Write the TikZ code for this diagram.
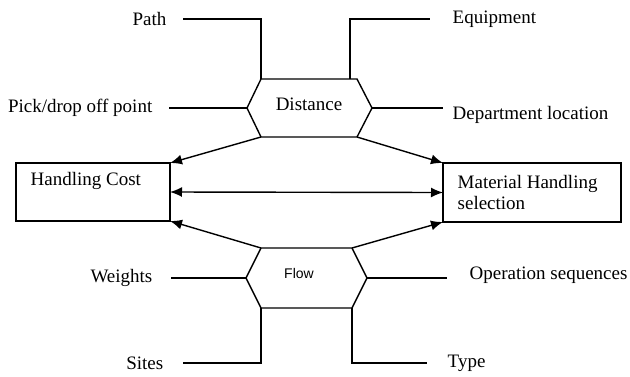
\documentclass[tikz,border=0pt]{standalone}
\usepackage{fontspec}
\setmainfont{Liberation Serif}
\newfontfamily\flowfont{Liberation Sans}
\usetikzlibrary{arrows.meta, positioning}

\begin{document}
\begin{tikzpicture}[
				x=1pt, y=-1pt,
				font=\fontsize{19}{21}\selectfont,
				line width=1.4pt,
				box/.style={draw, rectangle, outer sep=0pt},
				lbl/.style={inner sep=3pt},
				arrow/.style={-{Latex[length=12pt, width=10pt]}, line width=1.4pt},
				link/.style={draw, line width=1.4pt}
				]
				
				\useasboundingbox (0,0) rectangle (630,376);
				
				% Side boxes
				\node[box, minimum width=154pt, minimum height=58pt] (cost) at (93,192) {};
				\node[lbl, anchor=west] (costtxt) at (27,181) {Handling Cost};
				
				\node[box, minimum width=178pt, minimum height=59pt] (mat) at (532,192.5) {};
				\node[lbl, anchor=west, align=left] (mattxt) at (454,192.5) {Material Handling\\selection};
				
				% Distance hexagon
				\coordinate (dtl) at (261,79);
				\coordinate (dtr) at (357,79);
				\coordinate (dr) at (372,108);
				\coordinate (dbr) at (357,137);
				\coordinate (dbl) at (261,137);
				\coordinate (dl) at (247,108);
				\draw (dtl) -- (dtr) -- (dr) -- (dbr) -- (dbl) -- (dl) -- cycle;
				\node[lbl] (dist) at (309,104) {Distance};
				
				% Flow hexagon
				\coordinate (ftl) at (261,248);
				\coordinate (ftr) at (352,248);
				\coordinate (fr) at (367,278);
				\coordinate (fbr) at (352,308);
				\coordinate (fbl) at (261,308);
				\coordinate (fl) at (246,278);
				\draw (ftl) -- (ftr) -- (fr) -- (fbr) -- (fbl) -- (fl) -- cycle;
				\node[lbl, font=\flowfont\fontsize{14}{16}\selectfont] (flow) at (299,273) {Flow};
				
				% Factors of distance
				\coordinate (pathend) at (183,19);
				\coordinate (eqfoot) at (350,79);
				\coordinate (eqend) at (430,19);
				\coordinate (pickend) at (169,108);
				\coordinate (deptend) at (443,108);
				\node[lbl, left=13pt of pathend] (path) {Path};
				\node[lbl, right=19pt of eqend] (equip) {Equipment};
				\node[lbl, left=13pt of pickend] (pick) {Pick/drop off point};
				\node[lbl, right=6pt of deptend, yshift=-7pt] (dept) {Department location};
				\draw (dtl) |- (pathend);
				\draw (eqfoot) |- (eqend);
				\draw (dl) -- (pickend);
				\draw (dr) -- (deptend);
				
				% Factors of flow
				\coordinate (wend) at (171,278);
				\coordinate (opend) at (447,278);
				\coordinate (sitesend) at (183,363);
				\coordinate (typeend) at (427,363);
				\node[lbl, left=15pt of wend] (weights) {Weights};
				\node[lbl, right=19pt of opend, yshift=3pt] (oper) {Operation sequences};
				\node[lbl, left=16pt of sitesend] (sites) {Sites};
				\node[lbl, right=17pt of typeend] (type) {Type};
				\draw (fl) -- (wend);
				\draw (fr) -- (opend);
				\draw (fbl) |- (sitesend);
				\draw (fbr) |- (typeend);
				
				% Arrows to the boxes
				\draw[arrow] (dbl) -- (cost.north east);
				\draw[arrow] (dbr) -- (mat.north west);
				\draw[arrow] (ftl) -- (cost.south east);
				\draw[arrow] (ftr) -- (mat.south west);
				\draw[arrow, {Latex[length=12pt, width=10pt]}-{Latex[length=12pt, width=10pt]}] (cost.east) -- (mat.west);
				
			\end{tikzpicture}
\end{document}
